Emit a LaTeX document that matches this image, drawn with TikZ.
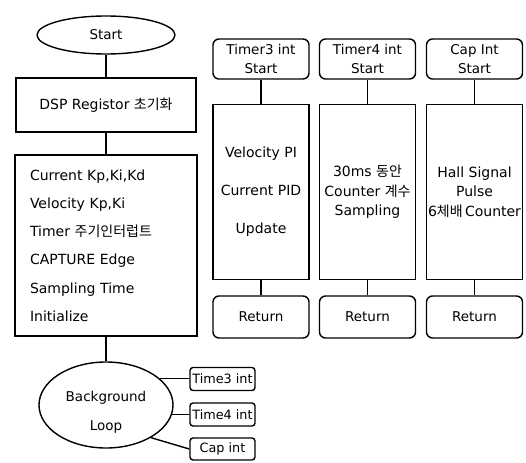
\documentclass[tikz,border=0pt]{standalone}
\usepackage{fontspec}
\setmainfont{DejaVu Sans}
\newfontfamily\kr{Noto Sans CJK KR}
\usetikzlibrary{shapes.geometric}
\begin{document}
\begin{tikzpicture}[x=1pt,y=-1pt,line width=1.4pt,
  font=\fontsize{13.5}{19}\selectfont,
  box/.style={draw,rectangle,inner sep=0pt,align=center},
  rbox/.style={draw,rectangle,rounded corners=6pt,inner sep=0pt,align=center,minimum width=96pt},
  sbox/.style={draw,rectangle,rounded corners=3pt,inner sep=0pt,minimum width=65pt,minimum height=23pt,
    font=\fontsize{12.8}{15}\selectfont},
  oval/.style={draw,ellipse,inner sep=0pt,align=center},
  conn/.style={draw,line width=1.4pt}]
\useasboundingbox (0,0) rectangle (526,462);
% left column
\node[oval,minimum width=138pt,minimum height=38pt] (start) at (106,35) {Start};
\node[box,minimum width=180pt,minimum height=54pt,font=\fontsize{14}{16}\selectfont] (dsp) at (106,105) {DSP Registor {\kr 초기화}};
\node[box,minimum width=182pt,minimum height=181pt,text width=152pt,inner xsep=15pt,align=left,
      font=\fontsize{14}{16}\selectfont] (par) at (106,245.5)
  {Current Kp,Ki,Kd\\[12.2pt]Velocity Kp,Ki\\[12.2pt]Timer {\kr 주기인터럽트}\\[12.2pt]CAPTURE Edge\\[12.2pt]Sampling Time\\[12.2pt]Initialize};
\node[oval,minimum width=134pt,minimum height=86pt] (bg) at (106,405) {};
\node[align=center,inner sep=0pt,font=\fontsize{13.5}{29}\selectfont] (bgt) at (106,412) {Background\\Loop};
\node[sbox] (t3) at (222.5,379) {Time3 int};
\node[sbox] (t4) at (222.5,414.5) {Time4 int};
\node[sbox,minimum height=22pt] (ci) at (222.5,449) {Cap int};
\draw[conn] (start.south) -- (dsp.north);
\draw[conn] (dsp.south) -- (par.north);
\draw[conn] (par.south) -- (bg.north);
\draw[conn] (bg.26) -- (bg.26 -| t3.west);
\draw[conn] (bg.-8) -- (bg.-8 -| t4.west);
\draw[conn] (bg.-36) -- (ci.west);
% right columns
\node[rbox,minimum height=40pt] (h3) at (261,59) {Timer3 int\\Start};
\node[rbox,minimum height=40pt] (h4) at (367.5,59) {Timer4 int\\Start};
\node[rbox,minimum height=40pt] (h5) at (474.5,59) {Cap Int\\Start};
\node[box,minimum width=96pt,minimum height=175pt,font=\fontsize{14}{16}\selectfont] (b3) at (261,192)
  {Velocity PI\\[22pt]Current PID\\[22pt]Update};
\node[box,minimum width=96pt,minimum height=175pt,font=\fontsize{14}{19.5}\selectfont] (b4) at (367.5,192)
  {30ms {\kr 동안}\\Counter {\kr 계수}\\Sampling};
\node[box,minimum width=96pt,minimum height=175pt,font=\fontsize{14}{19.5}\selectfont] (b5) at (474.5,192)
  {Hall Signal\\Pulse\\6{\kr 체배}\,Counter};
\node[rbox,minimum height=42pt] (r3) at (261,317) {Return};
\node[rbox,minimum height=42pt] (r4) at (367.5,317) {Return};
\node[rbox,minimum height=42pt] (r5) at (474.5,317) {Return};
\foreach \i in {3,4,5}{
  \draw[conn] (h\i.south) -- (b\i.north);
  \draw[conn] (b\i.south) -- (r\i.north);
}
\end{tikzpicture}
\end{document}
